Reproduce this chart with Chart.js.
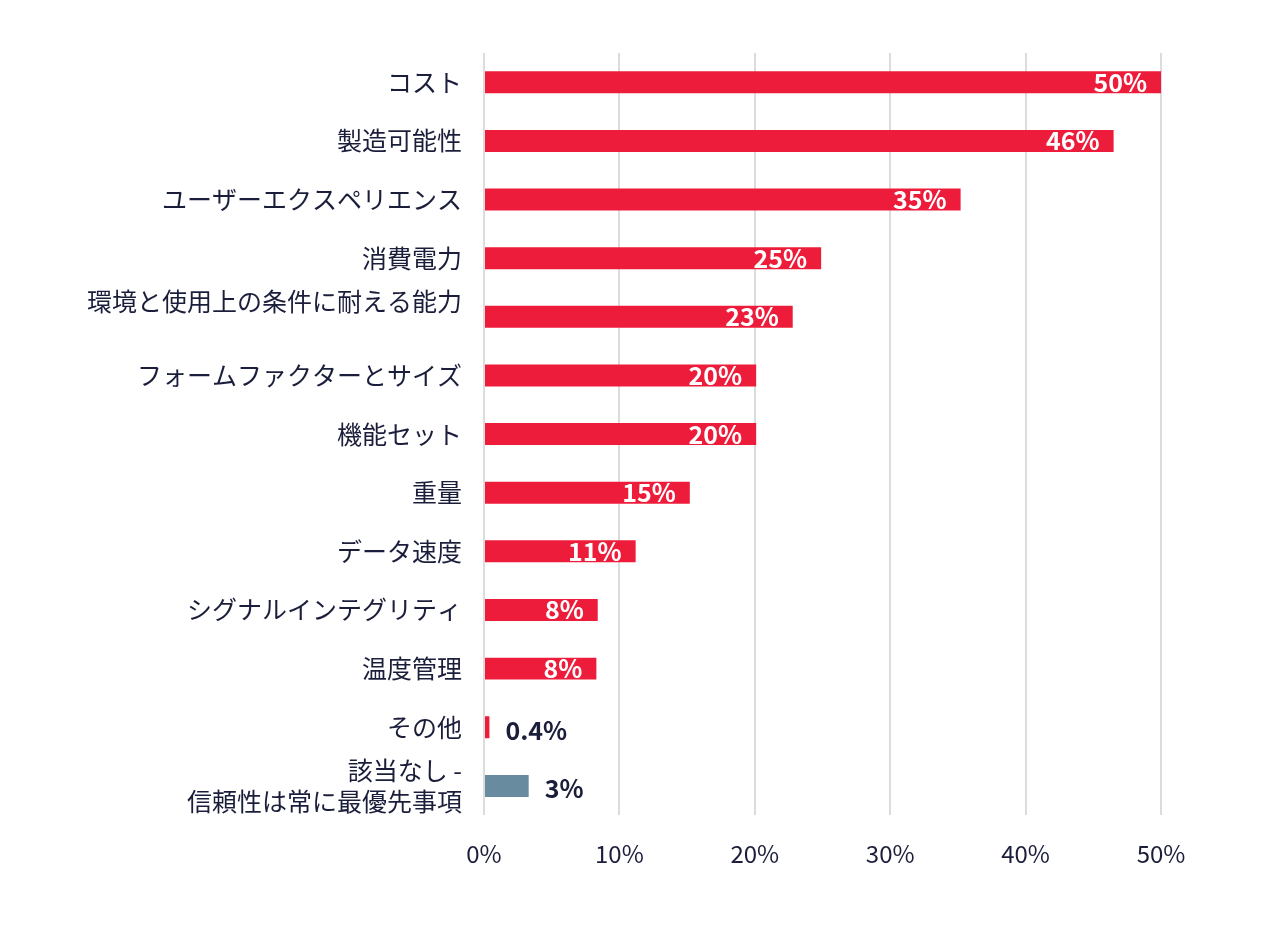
<!DOCTYPE html>
<html>
<head>
<meta charset="utf-8">
<script src="https://cdn.jsdelivr.net/npm/chart.js@4"></script>
<style>
html,body{margin:0;padding:0;background:#fff;}
#wrap{width:1280px;height:928px;position:relative;}
</style>
</head>
<body>
<div id="wrap"><canvas id="c" width="1280" height="928"></canvas></div>
<script>
const categories = [
  'コスト',
  '製造可能性',
  'ユーザーエクスペリエンス',
  '消費電力',
  ['環境と使用上の条件に耐える能力', ''],
  'フォームファクターとサイズ',
  '機能セット',
  '重量',
  'データ速度',
  'シグナルインテグリティ',
  '温度管理',
  'その他',
  ['該当なし -', '信頼性は常に最優先事項']
];
const values = [50, 46.5, 35.2, 24.9, 22.8, 20.1, 20.1, 15.2, 11.2, 8.4, 8.3, 0.4, 3.3];
const valueLabels = ['50%', '46%', '35%', '25%', '23%', '20%', '20%', '15%', '11%', '8%', '8%', '0.4%', '3%'];
const xTicks = [0, 10, 20, 30, 40, 50];

const RED = '#EE1C3B';
const GREY = '#698B9F';
const TEXT = '#1B1E3A';
const FONT = '"Noto Sans CJK JP", "Noto Sans", sans-serif';

const barColors = values.map((v, i) => i === values.length - 1 ? GREY : RED);

const labelPlugin = {
  id: 'valueLabels',
  afterDatasetsDraw(chart) {
    const ctx = chart.ctx;
    const meta = chart.getDatasetMeta(0);
    ctx.save();
    ctx.font = 'bold 25px ' + FONT;
    ctx.textBaseline = 'middle';
    meta.data.forEach((bar, i) => {
      const txt = valueLabels[i];
      if (values[i] > 5) {
        ctx.fillStyle = '#ffffff';
        ctx.textAlign = 'right';
        ctx.fillText(txt, bar.x - 14, bar.y);
      } else {
        ctx.fillStyle = TEXT;
        ctx.textAlign = 'left';
        ctx.fillText(txt, bar.x + 16, bar.y + 3);
      }
    });
    ctx.restore();
  }
};

new Chart(document.getElementById('c'), {
  type: 'bar',
  data: {
    labels: categories,
    datasets: [{
      data: values,
      backgroundColor: barColors,
      borderWidth: 0,
      barPercentage: 0.375,
      categoryPercentage: 1.0
    }]
  },
  options: {
    indexAxis: 'y',
    responsive: false,
    animation: false,
    devicePixelRatio: 1,
    layout: { padding: { top: 52, right: 119, bottom: 36, left: 0 } },
    plugins: { legend: { display: false }, tooltip: { enabled: false } },
    scales: {
      x: {
        min: 0,
        max: 50,
        afterBuildTicks(scale) { scale.ticks = xTicks.map(v => ({ value: v })); },
        grid: { color: '#DCDCDC', lineWidth: 2, drawTicks: false },
        border: { display: false },
        ticks: {
          padding: 24,
          color: TEXT,
          font: { family: FONT, size: 24 },
          callback: v => v + '%'
        }
      },
      y: {
        grid: { display: false, drawTicks: false },
        border: { display: false },
        afterFit(scale) { scale.width = 484; },
        ticks: {
          autoSkip: false,
          padding: 22,
          color: TEXT,
          font: { family: FONT, size: 25, lineHeight: 1.24 }
        }
      }
    }
  },
  plugins: [labelPlugin]
});
</script>
</body>
</html>
